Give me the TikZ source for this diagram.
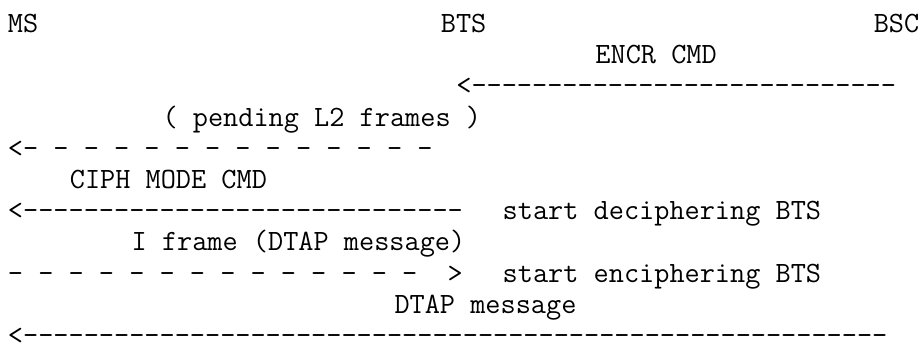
\documentclass[tikz,border=0pt]{standalone}
\usepackage{fontspec}
\setmonofont{Latin Modern Mono}
\usepackage{tikz}
\tikzset{
  msgtext/.style={font=\ttfamily\fontsize{14.72pt}{15.6pt}\selectfont,
    anchor=base west,inner sep=0pt,outer sep=0pt,text=black}
}

\begin{document}
\begin{tikzpicture}[x=7.73pt,y=-15.6pt]
\useasboundingbox (-4pt,16.25pt) rectangle (456.5pt,-158.75pt);
% entities
\node[msgtext] (ms) at (0,0) {MS};
\node[msgtext] (bts) at (28,0) {BTS};
\node[msgtext] (bsc) at (56,0) {BSC};
% BSC to BTS
\node[msgtext] (encr) at (38,1) {ENCR CMD};
\node[msgtext] (encrarrow) at (29,2) {<----------------------------};
% BTS to MS
\node[msgtext] (pending) at (10,3) {( pending L2 frames )};
\node[msgtext] (pendingarrow) at (0,4) {<- - - - - - - - - - - - - -};
\node[msgtext] (ciph) at (4,5) {CIPH MODE CMD};
\node[msgtext] (cipharrow) at (0,6) {<-----------------------------};
\node[msgtext] (decipher) at (32,6) {start deciphering BTS};
% MS to BTS
\node[msgtext] (iframe) at (8,7) {I frame (DTAP message)};
\node[msgtext] (iframearrow) at (0,8) {- - - - - - - - - - - - - -~~>};
\node[msgtext] (encipher) at (32,8) {start enciphering BTS};
% BSC to MS
\node[msgtext] (dtap) at (25,9) {DTAP message};
\node[msgtext] (dtaparrow) at (0,10) {<---------------------------------------------------------};
\end{tikzpicture}
\end{document}
